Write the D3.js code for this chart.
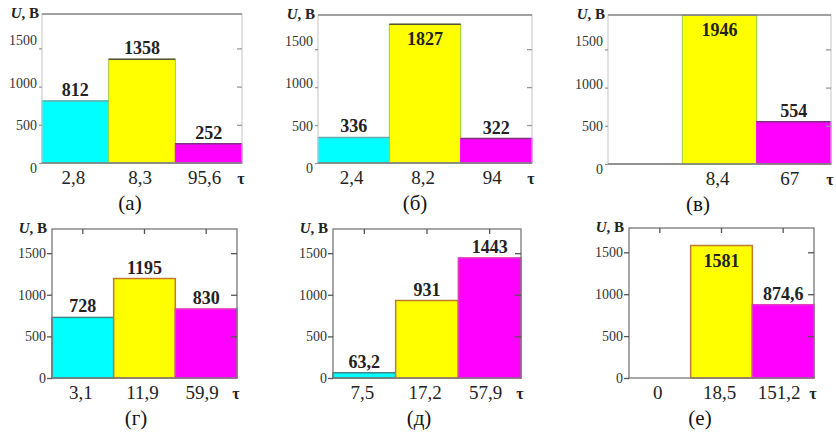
<!DOCTYPE html>
<html>
<head>
<meta charset="utf-8">
<script src="https://cdn.jsdelivr.net/npm/d3@7"></script>
<style>
  body { margin: 0; background: #fff; }
  svg text { font-family: "Liberation Serif", "Times New Roman", serif; }
</style>
</head>
<body>
<div id="container"></div>
<script>
// chart values, one entry per panel
var captions = ["(а)", "(б)", "(в)", "(г)", "(д)", "(е)"]
var tauLabels = [
  ["2,8", "8,3", "95,6"],
  ["2,4", "8,2", "94"],
  ["", "8,4", "67"],
  ["3,1", "11,9", "59,9"],
  ["7,5", "17,2", "57,9"],
  ["0", "18,5", "151,2"]
]
var voltages = [
  [812, 1358, 252],
  [336, 1827, 322],
  [null, 1946, 554],
  [728, 1195, 830],
  [63.2, 931, 1443],
  [0, 1581, 874.6]
]
var yTicks = [0, 500, 1000, 1500]
var yMax = [1950, 1790]   // top row, bottom row

// layout of the six frames: left, top, right, bottom, caption x
var frames = [
  [42, 14, 242, 163, 130],
  [318, 15, 532, 163, 415],
  [608, 15, 831, 164, 698],
  [52, 229, 237, 378, 136],
  [333, 229, 521, 378, 419],
  [629, 228, 814, 378, 700]
]

var fills = ["#00ffff", "#ffff00", "#ff00ff"]
var topEdge = ["#66aaaa", "#555533", "#803080"]
var sideEdge = ["#00ffff", "#9ccc33", "#ff00ff"]
var lowEdge = ["#3f8585", "#c07a30", "#e040c0"]

var serif = "'Liberation Serif', 'Times New Roman', serif"

var fmt = d3.formatLocale({decimal: ",", thousands: "", grouping: [3], currency: ["", ""]}).format("~f")

var svg = d3.select("#container").append("svg")
    .attr("width", 836)
    .attr("height", 435)
    .style("display", "block")

frames.forEach(function(f, i) { panel(svg, f, i) })

svg.selectAll("text").style("font-family", serif)

function panel(svg, f, i) {
  var left = f[0], top = f[1], right = f[2], bottom = f[3]
  var lowRow = i >= 3
  var frameColor = lowRow ? "#777" : "#c4c4c4"

  var x = d3.scaleBand()
      .domain([0, 1, 2])
      .range([left, right])
      .paddingInner(0)
      .paddingOuter(0)

  var y = d3.scaleLinear()
      .domain([0, yMax[lowRow ? 1 : 0]])
      .range([bottom, top])

  // tick labels in the upper row sit a little off their ticks
  var yLab = lowRow ? y : d3.scaleLinear().domain([0, 1500]).range([bottom + 5, y(1500) - 8])

  var g = svg.append("g")

  // bars
  var data = voltages[i].map(function(v, k) { return {v: v, k: k} })
      .filter(function(d) { return d.v !== null })

  g.selectAll(".bar").data(data).enter().append("rect")
      .attr("x", function(d) { return x(d.k) })
      .attr("y", function(d) { return y(d.v) })
      .attr("width", x.bandwidth())
      .attr("height", function(d) { return y(0) - y(d.v) })
      .attr("fill", function(d) { return fills[d.k] })
      .attr("stroke", function(d) { return lowRow ? lowEdge[d.k] : sideEdge[d.k] })
      .attr("stroke-width", lowRow ? 1.5 : 1)

  if (!lowRow) {
    g.selectAll(".edge").data(data.filter(function(d) { return d.v > 0 })).enter().append("line")
        .attr("x1", function(d) { return x(d.k) })
        .attr("x2", function(d) { return x(d.k) + x.bandwidth() })
        .attr("y1", function(d) { return y(d.v) })
        .attr("y2", function(d) { return y(d.v) })
        .attr("stroke", function(d) { return topEdge[d.k] })
        .attr("stroke-width", 1.5)
  }

  // frame
  g.append("rect")
      .attr("x", left)
      .attr("y", top)
      .attr("width", right - left)
      .attr("height", bottom - top)
      .attr("fill", "none")
      .attr("stroke", frameColor)
      .attr("stroke-width", lowRow ? 1.3 : 1)

  if (!lowRow) {
    g.append("line")
        .attr("x1", left).attr("x2", right)
        .attr("y1", top).attr("y2", top)
        .attr("stroke", "#8a8a8a")
        .attr("stroke-width", 1.3)
    g.append("line")
        .attr("x1", left).attr("x2", right)
        .attr("y1", bottom).attr("y2", bottom)
        .attr("stroke", "#777")
        .attr("stroke-width", 1.3)
  }

  // y ticks
  var leftAxis = d3.axisLeft(y).tickValues(yTicks).tickSizeInner(lowRow ? 5 : 3).tickSizeOuter(0).tickFormat("")
  var rightAxis = d3.axisRight(y).tickValues(yTicks.slice(1)).tickSizeInner(-(lowRow ? 6 : 5)).tickSizeOuter(0).tickFormat("")

  var la = g.append("g").attr("transform", "translate(" + left + ",0)").call(leftAxis)
  var ra = g.append("g").attr("transform", "translate(" + right + ",0)").call(rightAxis)
  ;[la, ra].forEach(function(a) {
    a.select(".domain").remove()
    a.selectAll("text").remove()
    a.selectAll("line").attr("stroke", lowRow ? "#555" : "#999").attr("stroke-width", 1.3)
  })

  if (lowRow) {
    var topAxis = d3.axisBottom(x).tickSizeInner(5).tickSizeOuter(0).tickFormat("")
    var ta = g.append("g").attr("transform", "translate(0," + top + ")").call(topAxis)
    ta.select(".domain").remove()
    ta.selectAll("text").remove()
    ta.selectAll("line").attr("stroke", "#555").attr("stroke-width", 1.3)
  }

  g.selectAll(".ylab").data(yTicks).enter().append("text")
      .attr("x", left - (lowRow ? 6 : 5))
      .attr("y", function(d) { return yLab(d) })
      .attr("dy", "0.35em")
      .attr("text-anchor", "end")
      .attr("font-size", "14px")
      .attr("fill", "#333")
      .text(function(d) { return d })

  // axis names
  var name = g.append("text")
      .attr("x", left - (lowRow ? 5 : 3))
      .attr("y", top + 4)
      .attr("text-anchor", "end")
      .attr("font-size", "15px")
      .attr("font-weight", "bold")
      .attr("fill", "#222")
  name.append("tspan").attr("font-style", "italic").text("U")
  name.append("tspan").text(", В")

  g.append("text")
      .attr("x", right - 1)
      .attr("y", bottom + 21)
      .attr("text-anchor", "middle")
      .attr("font-size", "16px")
      .attr("font-weight", "bold")
      .attr("fill", "#222")
      .text("τ")

  // τ values under the bars
  g.selectAll(".xlab").data(tauLabels[i]).enter().append("text")
      .attr("x", function(d, k) { return x(k) + x.bandwidth() / 2 - (k === 2 ? 4 : 2) })
      .attr("y", bottom + 21)
      .attr("text-anchor", "middle")
      .attr("font-size", "19px")
      .attr("fill", "#222")
      .text(function(d) { return d })

  // value labels, inside the bar when it reaches the top
  g.selectAll(".vlab").data(data.filter(function(d) { return d.v > 0 })).enter().append("text")
      .attr("x", function(d) { return x(d.k) + x.bandwidth() / 2 })
      .attr("y", function(d) { return y(d.v) - top < 20 ? y(d.v) + 21 : y(d.v) - 5 })
      .attr("text-anchor", "middle")
      .attr("font-size", "18px")
      .attr("font-weight", "bold")
      .attr("fill", "#222")
      .text(function(d) { return fmt(d.v) })

  g.append("text")
      .attr("x", f[4])
      .attr("y", bottom + 47)
      .attr("text-anchor", "middle")
      .attr("font-size", "21px")
      .attr("fill", "#111")
      .text(captions[i])
}
</script>
</body>
</html>
